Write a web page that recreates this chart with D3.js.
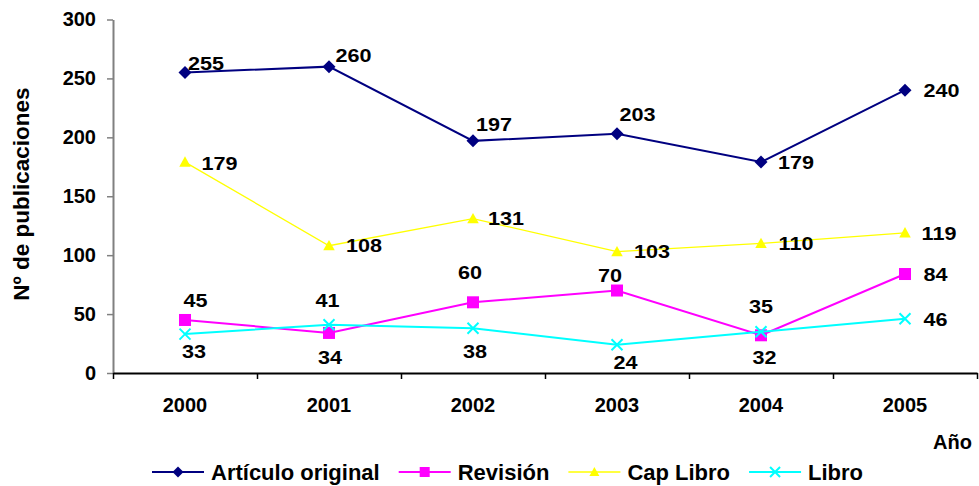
<!DOCTYPE html>
<html><head><meta charset="utf-8">
<script src="https://cdn.jsdelivr.net/npm/d3@7"></script>
<style>
html,body{margin:0;padding:0;background:#fff;}
text{font-family:"Liberation Sans",Arial,sans-serif;font-weight:bold;fill:#000;}
</style></head>
<body><svg id="c" width="979" height="486"></svg>
<script>
const years = ["2000","2001","2002","2003","2004","2005"];
const articulo = [255,260,197,203,179,240];
const revision = [45,34,60,70,32,84];
const capLibro = [179,108,131,103,110,119];
const libro    = [33,41,38,24,35,46];
const yTicks   = [0,50,100,150,200,250,300];
const seriesNames = ["Artículo original","Revisión","Cap Libro","Libro"];
const yTitle = "Nº de publicaciones";
const xTitle = "Año";

// label offsets (layout only): [dx, dy] from point to label centre
const labelOffsets = [
  [[21,-9.5],[24.5,-11.5],[21,-16],[20.5,-19],[35,0],[36.5,0]],
  [[10.5,-19],[1,25],[-3,-30],[-7,-15.5],[3.5,22],[30.5,0]],
  [[34.5,1],[35,0],[33,0],[35,0],[35,0],[34,1]],
  [[9,17],[-1.5,-24],[2,23],[8.5,18],[0,-25],[30.5,1]]
];

const series = [
  {name:seriesNames[0], values:articulo, color:"#000080", width:2, marker:"diamond"},
  {name:seriesNames[1], values:revision, color:"#FF00FF", width:2, marker:"square"},
  {name:seriesNames[2], values:capLibro, color:"#FFFF00", width:1.3, marker:"triangle"},
  {name:seriesNames[3], values:libro, color:"#00FFFF", width:2, marker:"x"}
];

const svg = d3.select("#c");
const L = 113, R = 977, T = 19.5, B = 373;
const x = d3.scaleBand().domain(years).range([L,R]);
const xLin = d3.scaleLinear().domain([0,years.length]).range([L,R]);
const y = d3.scaleLinear().domain([0,300]).range([B,T]);

// Y axis
const gy = svg.append("g").attr("transform",`translate(${L},0)`)
  .call(d3.axisLeft(y).tickValues(yTicks).tickSize(6).tickSizeOuter(0).tickPadding(11));
gy.select(".domain").attr("stroke","#808080").attr("stroke-width",2);
gy.selectAll(".tick line").attr("stroke","#808080").attr("stroke-width",1.5);
gy.selectAll(".tick text").style("font-size","20px").attr("font-family",null);

// X axis labels
const gx = svg.append("g").attr("transform",`translate(0,${B})`)
  .call(d3.axisBottom(x).tickSize(0).tickPadding(25));
gx.select(".domain").remove();
gx.selectAll(".tick text").style("font-size","20px").attr("font-family",null);
// X axis line and boundary ticks
const gx2 = svg.append("g").attr("transform",`translate(0,${B})`)
  .call(d3.axisBottom(xLin).tickValues(d3.range(years.length+1)).tickFormat("").tickSize(6).tickSizeOuter(0));
gx2.select(".domain").attr("stroke","#000").attr("stroke-width",2);
gx2.selectAll(".tick line").attr("stroke","#000").attr("stroke-width",1.5);

// titles
svg.append("text").attr("transform","translate(29,194) rotate(-90)")
  .attr("text-anchor","middle").style("font-size","22.5px").text(yTitle);
svg.append("text").attr("x",972).attr("y",449).attr("text-anchor","end")
  .style("font-size","20px").text(xTitle);

function drawMarker(g, type, cx, cy, size, color){
  const h = size/2;
  if(type==="diamond"){
    g.append("path").attr("d",`M${cx},${cy-h}L${cx+h},${cy}L${cx},${cy+h}L${cx-h},${cy}Z`).attr("fill",color);
  } else if(type==="square"){
    g.append("rect").attr("x",cx-h).attr("y",cy-h).attr("width",size).attr("height",size).attr("fill",color);
  } else if(type==="triangle"){
    g.append("path").attr("d",`M${cx},${cy-h}L${cx+h},${cy+h*0.8}L${cx-h},${cy+h*0.8}Z`).attr("fill",color);
  } else {
    g.append("path").attr("d",`M${cx-h},${cy-h}L${cx+h},${cy+h}M${cx-h},${cy+h}L${cx+h},${cy-h}`)
      .attr("stroke",color).attr("stroke-width",2).attr("fill","none");
  }
}

const line = d3.line().x((d,i)=>x(years[i])+x.bandwidth()/2).y(d=>y(d));
const sizes = {diamond:13, square:12, triangle:11.5, x:11};
series.forEach((s,si)=>{
  const g = svg.append("g");
  g.append("path").datum(s.values).attr("d",line).attr("fill","none")
    .attr("stroke",s.color).attr("stroke-width",s.width);
  s.values.forEach((v,i)=>{
    drawMarker(g, s.marker, x(years[i])+x.bandwidth()/2, y(v), sizes[s.marker], s.color);
  });
});
// data labels
series.forEach((s,si)=>{
  s.values.forEach((v,i)=>{
    const cx = x(years[i])+x.bandwidth()/2 + labelOffsets[si][i][0];
    const cy = y(v) + labelOffsets[si][i][1];
    svg.append("text").attr("transform",`translate(${cx},${cy}) scale(1.2,1)`)
      .attr("text-anchor","middle").attr("dy","0.36em")
      .style("font-size","18px").text(v);
  });
});

// legend
const lg = svg.append("g");
let lx = 152; const ly = 472;
const legSizes = {diamond:11, square:10, triangle:10, x:10};
series.forEach(s=>{
  lg.append("line").attr("x1",lx).attr("x2",lx+52).attr("y1",ly).attr("y2",ly)
    .attr("stroke",s.color).attr("stroke-width",s.width);
  drawMarker(lg, s.marker, lx+26, ly, legSizes[s.marker], s.color);
  const t = lg.append("text").attr("x",lx+59).attr("y",ly+8).style("font-size","22px").text(s.name);
  lx = lx + 59 + t.node().getComputedTextLength() + 19;
});
</script></body></html>
